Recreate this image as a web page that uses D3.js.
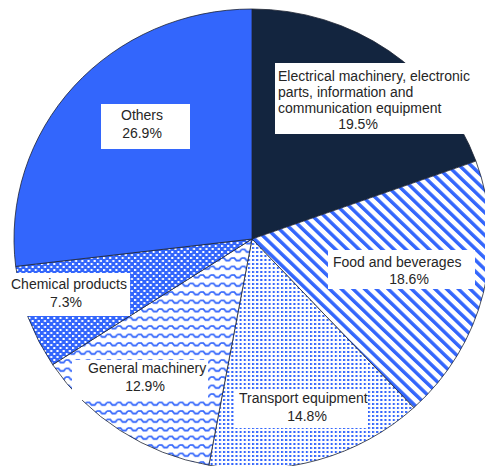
<!DOCTYPE html>
<html>
<head>
<meta charset="utf-8">
<script src="https://cdn.jsdelivr.net/npm/d3@7"></script>
<style>
  html, body { margin: 0; padding: 0; background: #fff; }
  svg { display: block; }
  text { font-family: "Liberation Sans", Arial, sans-serif; font-size: 14px; fill: #262626; }
</style>
</head>
<body>
<svg id="chart" width="485" height="466"></svg>
<script>
// ---- data ----
const categories = [
  "Electrical machinery, electronic parts, information and communication equipment",
  "Food and beverages",
  "Transport equipment",
  "General machinery",
  "Chemical products",
  "Others"
];
const shares = [19.5, 18.6, 14.8, 12.9, 7.3, 26.9];
const labelLines = [
  ["Electrical machinery, electronic", "parts, information and", "communication equipment"],
  ["Food and beverages"],
  ["Transport equipment"],
  ["General machinery"],
  ["Chemical products"],
  ["Others"]
];

// ---- layout / style (not data) ----
const fills = ["#13253f", "url(#pStripe)", "url(#pDots)", "url(#pWave)", "url(#pCheck)", "#3366fc"];
const labelLayout = [
  { box: [275, 63, 198, 71], x: 278, y0: 81, dy: 16, px: 358 },
  { box: [328, 250, 147, 39], x: 333, y0: 267, dy: 17, px: 409 },
  { box: [235, 389, 133, 39], x: 239, y0: 403, dy: 17.5, px: 307 },
  { box: [72, 360, 136, 40], x: 88, y0: 373, dy: 17.5, px: 145 },
  { box: [8, 273, 122, 43], x: 11, y0: 289, dy: 18, px: 66 },
  { box: [101, 104, 89, 45], x: 121, y0: 120, dy: 17.5, px: 142 }
];
const cx = 252, cy = 239, rx = 238, ry = 230;
const blue = "#3366fc";

const svg = d3.select("#chart");
const defs = svg.append("defs");

// stripes (\ direction)
const ps = defs.append("pattern").attr("id", "pStripe").attr("patternUnits", "userSpaceOnUse")
  .attr("width", 8).attr("height", 8).attr("patternTransform", "rotate(-45)");
ps.append("rect").attr("width", 8).attr("height", 8).attr("fill", "#fff");
ps.append("rect").attr("width", 3.4).attr("height", 8).attr("fill", blue);

// dots
const pd = defs.append("pattern").attr("id", "pDots").attr("patternUnits", "userSpaceOnUse")
  .attr("width", 4).attr("height", 4);
pd.append("rect").attr("width", 4).attr("height", 4).attr("fill", "#fff");
pd.append("rect").attr("width", 2).attr("height", 2).attr("fill", blue);

// waves
const pw = defs.append("pattern").attr("id", "pWave").attr("patternUnits", "userSpaceOnUse")
  .attr("width", 10).attr("height", 8.5);
pw.append("rect").attr("width", 10).attr("height", 8.5).attr("fill", "#fff");
pw.append("path").attr("d", "M0,2 L3,2 L5,4.5 L8,4.5 L10,2")
  .attr("fill", "none").attr("stroke", blue).attr("stroke-width", 1.7);

// checker
const pc = defs.append("pattern").attr("id", "pCheck").attr("patternUnits", "userSpaceOnUse")
  .attr("width", 6).attr("height", 6);
pc.append("rect").attr("width", 6).attr("height", 6).attr("fill", blue);
pc.append("rect").attr("width", 2).attr("height", 2).attr("fill", "#fff");
pc.append("rect").attr("x", 3).attr("y", 3).attr("width", 2).attr("height", 2).attr("fill", "#fff");

// ---- pie ----
const pie = d3.pie().sort(null).value(d => d)(shares);
const arc = d3.arc().innerRadius(0).outerRadius(ry);

const g = svg.append("g").attr("transform", `translate(${cx},${cy}) scale(${rx / ry},1)`);
g.selectAll("path.slice").data(pie).join("path")
  .attr("class", "slice")
  .attr("d", arc)
  .attr("fill", (d, i) => fills[i])
  .attr("stroke", "#1e2533")
  .attr("stroke-width", 0.8)
  .attr("vector-effect", "non-scaling-stroke");

// ---- labels ----
const fmt = d3.format(".1f");
const lg = svg.append("g");
labelLayout.forEach((L, i) => {
  const grp = lg.append("g").attr("class", "label");
  grp.append("rect").attr("x", L.box[0]).attr("y", L.box[1])
    .attr("width", L.box[2]).attr("height", L.box[3]).attr("fill", "#fff");
  labelLines[i].forEach((t, j) => {
    grp.append("text").attr("x", L.x).attr("y", L.y0 + j * L.dy)
      .attr("text-anchor", "start").text(t);
  });
  grp.append("text").attr("x", L.px).attr("y", L.y0 + labelLines[i].length * L.dy)
    .attr("text-anchor", "middle").text(fmt(shares[i]) + "%");
});
</script>
</body>
</html>
